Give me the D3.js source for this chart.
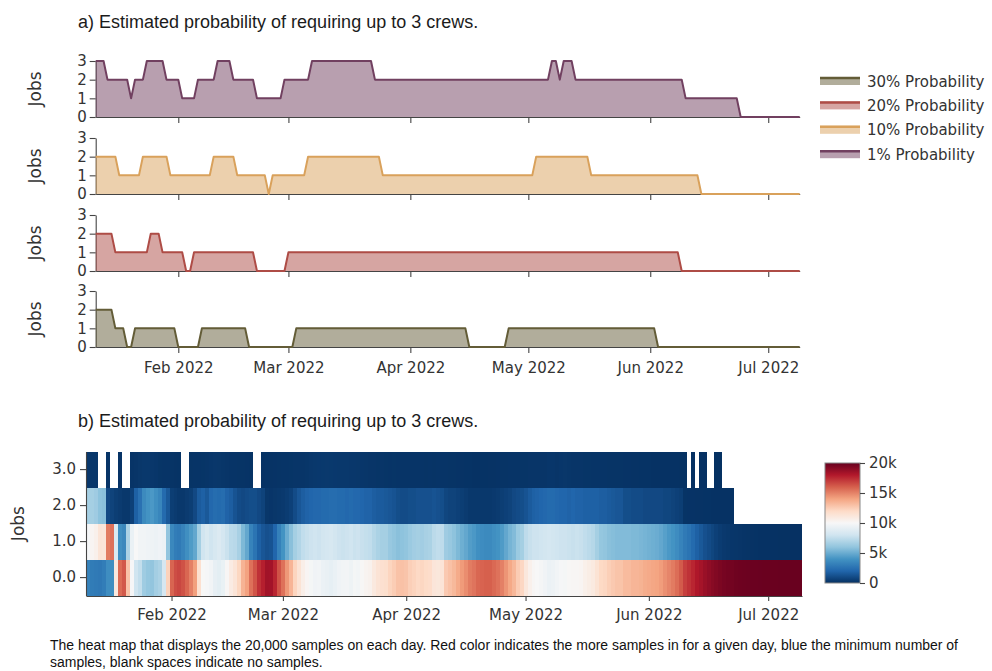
<!DOCTYPE html>
<html>
<head>
<meta charset="utf-8">
<script src="https://cdn.jsdelivr.net/npm/d3@7"></script>
<style>
  body { margin: 0; background: #ffffff; }
  svg { display: block; }
</style>
</head>
<body>
<svg id="chart" width="992" height="671"></svg>
<script>
// ---------- data ----------
const firstDay = "2022-01-11";
const lastDay = "2022-07-09";

// Jobs needed at each probability level, one value per day (Jan 11 – Jul 9, 2022)
const prob1 = [
  3,3,3,2,2,2,2,2,2,1, 2,2,2,3,3,3,3,3,2,2, 2,2,1,1,1,1,2,2,2,2, 2,3,3,3,3,2,2,2,2,2,
  2,1,1,1,1,1,1,1,2,2, 2,2,2,2,2,3,3,3,3,3, 3,3,3,3,3,3,3,3,3,3, 3,2,2,2,2,2,2,2,2,2,
  2,2,2,2,2,2,2,2,2,2, 2,2,2,2,2,2,2,2,2,2, 2,2,2,2,2,2,2,2,2,2, 2,2,2,2,2,2,3,3,2,3,
  3,3,2,2,2,2,2,2,2,2, 2,2,2,2,2,2,2,2,2,2, 2,2,2,2,2,2,2,2,2,2, 1,1,1,1,1,1,1,1,1,1,
  1,1,1,1,0,0,0,0,0,0, 0,0,0,0,0,0,0,0,0,0
];
const prob10 = [
  2,2,2,2,2,2,1,1,1,1, 1,1,2,2,2,2,2,2,2,1, 1,1,1,1,1,1,1,1,1,1, 2,2,2,2,2,2,1,1,1,1,
  1,1,1,1,0,1,1,1,1,1, 1,1,1,1,2,2,2,2,2,2, 2,2,2,2,2,2,2,2,2,2, 2,2,2,1,1,1,1,1,1,1,
  1,1,1,1,1,1,1,1,1,1, 1,1,1,1,1,1,1,1,1,1, 1,1,1,1,1,1,1,1,1,1, 1,1,2,2,2,2,2,2,2,2,
  2,2,2,2,2,2,1,1,1,1, 1,1,1,1,1,1,1,1,1,1, 1,1,1,1,1,1,1,1,1,1, 1,1,1,1,0,0,0,0,0,0,
  0,0,0,0,0,0,0,0,0,0, 0,0,0,0,0,0,0,0,0,0
];
const prob20 = [
  2,2,2,2,2,1,1,1,1,1, 1,1,1,1,2,2,2,1,1,1, 1,1,1,0,0,1,1,1,1,1, 1,1,1,1,1,1,1,1,1,1,
  1,0,0,0,0,0,0,0,0,1, 1,1,1,1,1,1,1,1,1,1, 1,1,1,1,1,1,1,1,1,1, 1,1,1,1,1,1,1,1,1,1,
  1,1,1,1,1,1,1,1,1,1, 1,1,1,1,1,1,1,1,1,1, 1,1,1,1,1,1,1,1,1,1, 1,1,1,1,1,1,1,1,1,1,
  1,1,1,1,1,1,1,1,1,1, 1,1,1,1,1,1,1,1,1,1, 1,1,1,1,1,1,1,1,1,0, 0,0,0,0,0,0,0,0,0,0,
  0,0,0,0,0,0,0,0,0,0, 0,0,0,0,0,0,0,0,0,0
];
const prob30 = [
  2,2,2,2,2,1,1,1,0,0, 1,1,1,1,1,1,1,1,1,1, 1,0,0,0,0,0,0,1,1,1, 1,1,1,1,1,1,1,1,1,0,
  0,0,0,0,0,0,0,0,0,0, 0,1,1,1,1,1,1,1,1,1, 1,1,1,1,1,1,1,1,1,1, 1,1,1,1,1,1,1,1,1,1,
  1,1,1,1,1,1,1,1,1,1, 1,1,1,1,1,0,0,0,0,0, 0,0,0,0,0,1,1,1,1,1, 1,1,1,1,1,1,1,1,1,1,
  1,1,1,1,1,1,1,1,1,1, 1,1,1,1,1,1,1,1,1,1, 1,1,1,0,0,0,0,0,0,0, 0,0,0,0,0,0,0,0,0,0,
  0,0,0,0,0,0,0,0,0,0, 0,0,0,0,0,0,0,0,0,0
];
const seriesLabels = ["1% Probability", "10% Probability", "20% Probability", "30% Probability"];
const jobTicks = [0, 1, 2, 3];

// Samples (out of 20,000) per day for each job count; null = no samples
const samplesJobs3 = [
  260,240,230,null,null,150,null,null,120,null, null,160,180,250,280,300,270,240,170,150,
  160,140,110,100,null,null,130,150,160,170, 180,230,260,250,220,180,160,150,140,130,
  120,100,null,null,90,100,110,120,140,150, 160,170,180,180,190,220,260,290,310,320,
  330,320,310,300,290,280,270,260,250,230, 210,190,180,170,180,170,160,170,160,150,
  150,160,150,160,150,140,150,140,150,160, 150,140,130,120,110,100,100,90,90,100,
  100,110,110,120,130,140,150,160,160,170, 170,180,180,190,180,190,230,240,190,230,
  250,220,190,180,180,170,170,160,160,150, 150,140,140,130,130,120,120,110,110,100,
  100,100,90,90,80,80,80,70,70,60, 60,null,50,null,40,40,null,null,30,30,
  null,null,null,null,null,null,null,null,null,null, null,null,null,null,null,null,null,null,null,null
];
const samplesJobs2 = [
  6600,6600,6400,5900,5800,900,700,500,400,300, 300,600,1800,2500,3600,4000,4200,3800,3400,2200,
  1500,500,400,300,300,400,500,900,1600,1800, 1500,2100,2300,2200,2300,1900,1700,1300,1000,900,
  1000,1100,1100,900,700,250,200,250,300,350, 450,600,1000,1400,1700,1900,2000,2100,2100,2200,
  2200,2300,2300,2200,2200,2100,2200,2100,2100,2000, 1900,1900,1700,1600,1600,1500,1400,1300,1100,1000,
  1000,1100,1100,1200,1200,1200,1200,1300,1200,1100, 800,700,700,600,500,400,300,300,300,300,
  300,300,350,400,500,600,700,900,1000,1100, 1300,1600,1800,1900,2000,2100,2200,2200,2100,2000,
  2000,1900,2000,1900,1900,1800,1800,1800,1800,1700, 1700,1600,1500,1400,1400,1100,1100,1000,1000,1000,
  900,900,900,900,900,800,800,700,600,500, 130,120,120,110,110,100,100,90,90,80,
  80,70,70,null,null,null,null,null,null,null, null,null,null,null,null,null,null,null,null,null
];
const samplesJobs1 = [
  9900,10200,10500,11300,11200,15200,15500,8500,3800,3500, 6800,9300,10000,9700,9700,9600,9500,9400,9600,9400,
  6000,3500,3000,2900,3300,3800,4300,4800,6600,8000, 8400,8000,8300,8600,8200,7800,7300,7200,6700,5500,
  4800,3300,2600,1800,1400,1200,1300,2000,3200,4000, 5000,5800,6600,7000,7500,7700,7900,8000,7900,8100,
  8200,8300,8100,7900,7800,7900,8000,7800,7900,7700, 7600,7500,7100,6800,6600,6600,6200,6000,5800,5900,
  6000,6300,6500,6600,6500,6700,6800,7300,7500,7400, 6400,6200,5900,5500,5100,4800,4400,4200,3800,3700,
  3600,3600,3800,4000,4300,4800,5300,5600,6300,6600, 7400,7700,7900,7900,8000,8100,8200,8100,8000,7900,
  7900,7800,7700,7800,7700,7500,7300,7100,6600,6100, 6000,5800,5700,5600,5600,5600,5600,5500,5500,5400,
  5300,5200,5100,5000,4800,4500,4200,4000,3700,3300, 2900,2600,2200,1800,1500,1200,1000,800,600,450,
  350,280,240,210,180,150,130,110,100,90, 80,80,70,70,60,60,60,50,50,50
];
const samplesJobs0 = [
  3240,2960,2870,2800,3000,3750,3800,11000,15680,16200, 12900,9940,8020,7550,6420,6100,6030,6560,6830,8250,
  12340,15860,16490,16700,16400,15800,15070,14150,11640,10030, 9920,9670,9140,8950,9280,10120,10840,11350,12160,13470,
  14080,15500,16300,17300,17810,18450,18390,17630,16360,15500, 14390,13430,12220,11420,10610,10180,9840,9610,9690,9380,
  9270,9080,9290,9600,9710,9720,9530,9840,9750,10070, 10290,10410,11020,11430,11620,11730,12240,12530,12940,12950,
  12850,12440,12250,12040,12150,11960,11850,11260,11150,11340, 12650,12960,13270,13780,14290,14700,15200,15410,15810,15900,
  16000,15990,15740,15480,15070,14460,13850,13340,12540,12130, 11130,10520,10120,10010,9820,9610,9370,9460,9710,9870,
  9850,10080,10110,10120,10220,10530,10730,10940,11440,12050, 12150,12460,12660,12870,12870,13180,13180,13390,13390,13500,
  13700,13800,13910,14010,14220,14620,14920,15230,15630,16140, 16910,17280,17630,18090,18350,18660,18900,19110,19280,19440,
  19570,19650,19690,19790,19820,19850,19870,19890,19900,19910, 19920,19920,19930,19930,19940,19940,19940,19950,19950,19950
];
const colorbarTicks = [0, 5000, 10000, 15000, 20000];
const colorbarTickLabels = ["0", "5k", "10k", "15k", "20k"];

const titleA = "a) Estimated probability of requiring up to 3 crews.";
const titleB = "b) Estimated probability of requiring up to 3 crews.";
const captionLines = [
  "The heat map that displays the 20,000 samples on each day. Red color indicates the more samples in for a given day, blue the minimum number of",
  "samples, blank spaces indicate no samples."
];

// ---------- setup ----------
const parse = d3.utcParse("%Y-%m-%d");
const days = d3.utcDay.range(parse(firstDay), d3.utcDay.offset(parse(lastDay), 1));
const svg = d3.select("#chart");
const TICK_FONT = "'DejaVu Sans', Verdana, sans-serif";
const TITLE_FONT = "'Liberation Sans', Arial, Helvetica, sans-serif";
const AXIS_COLOR = "#444";
const TEXT_COLOR = "#333";
const monthFmt = d3.utcFormat("%b %Y");

function styleAxis(g) {
  g.select(".domain").attr("stroke", AXIS_COLOR).attr("stroke-width", 1.1);
  g.selectAll(".tick line").attr("stroke", AXIS_COLOR).attr("stroke-width", 1.1);
  g.selectAll(".tick text").attr("fill", TEXT_COLOR)
    .style("font-family", TICK_FONT).style("font-size", "15px");
}

// ---------- (a) area panels ----------
svg.append("text").attr("x", 78).attr("y", 28).text(titleA)
  .style("font-family", TITLE_FONT).style("font-size", "18px").attr("fill", "#1b1b1b");

const xA = d3.scaleUtc().domain([days[0], days[days.length - 1]]).range([95.7, 799.7]);
const panels = [
  { values: prob1,  color: "#714060", top: 61 },
  { values: prob10, color: "#d9a15b", top: 138 },
  { values: prob20, color: "#ae4c46", top: 215 },
  { values: prob30, color: "#635c37", top: 291 }
];
const panelHeight = 56;

panels.forEach((p, i) => {
  const y = d3.scaleLinear().domain([0, 3]).range([p.top + panelHeight, p.top]);
  const g = svg.append("g");

  const isLast = i === panels.length - 1;
  const xAxis = d3.axisBottom(xA).ticks(d3.utcMonth.every(1))
    .tickSize(6).tickSizeOuter(0).tickPadding(9)
    .tickFormat(isLast ? monthFmt : () => "");
  g.append("g").attr("transform", `translate(0,${p.top + panelHeight})`).call(xAxis).call(styleAxis);

  const yAxis = d3.axisLeft(y).tickValues(jobTicks).tickFormat(d3.format("d"))
    .tickSize(6).tickSizeOuter(0).tickPadding(3);
  g.append("g").attr("transform", `translate(${xA.range()[0]},0)`).call(yAxis).call(styleAxis);

  const area = d3.area().x((d, j) => xA(days[j])).y0(y(0)).y1(d => y(d));
  const line = d3.line().x((d, j) => xA(days[j])).y(d => y(d));
  g.append("path").datum(p.values).attr("d", area)
    .attr("fill", p.color).attr("fill-opacity", 0.5);
  g.append("path").datum(p.values).attr("d", line)
    .attr("fill", "none").attr("stroke", p.color).attr("stroke-width", 2)
    .attr("stroke-linejoin", "round");

  svg.append("text")
    .attr("transform", `translate(41,${p.top + panelHeight / 2}) rotate(-90)`)
    .attr("text-anchor", "middle").text("Jobs")
    .style("font-family", TICK_FONT).style("font-size", "17px").attr("fill", TEXT_COLOR);
});

// legend (highest probability first)
const legendOrder = [3, 2, 1, 0];
legendOrder.forEach((idx, k) => {
  const cy = 81 + k * 24.4;
  const col = panels[idx].color;
  svg.append("rect").attr("x", 820).attr("y", cy - 4).attr("width", 40).attr("height", 8)
    .attr("fill", col).attr("fill-opacity", 0.5);
  svg.append("line").attr("x1", 820).attr("x2", 860).attr("y1", cy - 3).attr("y2", cy - 3)
    .attr("stroke", col).attr("stroke-width", 2.5);
  svg.append("text").attr("x", 867).attr("y", cy + 5.5).text(seriesLabels[idx])
    .style("font-family", TICK_FONT).style("font-size", "15px").attr("fill", TEXT_COLOR);
});

// ---------- (b) heatmap ----------
svg.append("text").attr("x", 78).attr("y", 427).text(titleB)
  .style("font-family", TITLE_FONT).style("font-size", "18px").attr("fill", "#1b1b1b");

const halfDay = 12 * 3600 * 1000;
const xH = d3.scaleUtc()
  .domain([new Date(+days[0] - halfDay), new Date(+days[days.length - 1] + halfDay)])
  .range([86, 802]);
const yH = d3.scaleBand().domain(["3", "2", "1", "0"]).range([451.6, 595.6]).padding(0);

const rdbu = ["#053061", "#2166ac", "#4393c3", "#92c5de", "#d1e5f0", "#f7f7f7",
              "#fddbc7", "#f4a582", "#d6604d", "#b2182b", "#67001f"];
const color = d3.scaleLinear()
  .domain(d3.range(rdbu.length).map(k => k * 20000 / (rdbu.length - 1)))
  .range(rdbu).interpolate(d3.interpolateRgb).clamp(true);

const heatRows = [
  { job: "0", values: samplesJobs0 },
  { job: "1", values: samplesJobs1 },
  { job: "2", values: samplesJobs2 },
  { job: "3", values: samplesJobs3 }
];
const cells = [];
heatRows.forEach(r => r.values.forEach((v, j) => {
  if (v !== null) cells.push({ job: r.job, day: days[j], value: v });
}));
// each cell is snapped to whole pixels so neighbouring days butt together without seams
const cellX0 = d => Math.round(xH(new Date(+d.day - halfDay)));
const cellX1 = d => Math.round(xH(new Date(+d.day + halfDay)));
svg.append("g").attr("shape-rendering", "crispEdges")
  .selectAll("rect").data(cells).join("rect")
  .attr("x", cellX0)
  .attr("width", d => cellX1(d) - cellX0(d))
  .attr("y", d => Math.round(yH(d.job)))
  .attr("height", d => Math.round(yH(d.job) + yH.bandwidth()) - Math.round(yH(d.job)))
  .attr("fill", d => color(d.value));

svg.append("g").attr("transform", "translate(0,596)")
  .call(d3.axisBottom(xH).ticks(d3.utcMonth.every(1)).tickFormat(monthFmt)
    .tickSize(5).tickSizeOuter(0).tickPadding(8))
  .call(styleAxis);
svg.append("g").attr("transform", "translate(86,0)")
  .call(d3.axisLeft(yH).tickFormat(d => d3.format(".1f")(+d)).tickSize(6).tickSizeOuter(0).tickPadding(4))
  .call(styleAxis);

svg.append("text")
  .attr("transform", `translate(24,${(yH.range()[0] + yH.range()[1]) / 2}) rotate(-90)`)
  .attr("text-anchor", "middle").text("Jobs")
  .style("font-family", TICK_FONT).style("font-size", "17px").attr("fill", TEXT_COLOR);

// colorbar
const cb = { x: 825, y: 463, w: 35, h: 120 };
const defs = svg.append("defs");
const grad = defs.append("linearGradient").attr("id", "cbGrad")
  .attr("x1", 0).attr("y1", 1).attr("x2", 0).attr("y2", 0);
rdbu.forEach((c, k) => grad.append("stop").attr("offset", k / (rdbu.length - 1)).attr("stop-color", c));
svg.append("rect").attr("x", cb.x).attr("y", cb.y).attr("width", cb.w).attr("height", cb.h)
  .attr("fill", "url(#cbGrad)").attr("stroke", "#888").attr("stroke-width", 1);
const cbScale = d3.scaleLinear().domain([0, 20000]).range([cb.y + cb.h, cb.y]);
const cbAxis = svg.append("g").attr("transform", `translate(${cb.x + cb.w},0)`)
  .call(d3.axisRight(cbScale).tickValues(colorbarTicks)
    .tickFormat((d, k) => colorbarTickLabels[k]).tickSize(5).tickPadding(4))
  .call(styleAxis);
cbAxis.select(".domain").remove();

// caption (condensed to the figure width)
const capFont = "'Liberation Sans Narrow', 'Liberation Sans', Arial, sans-serif";
const cap1 = svg.append("text").attr("x", 50).attr("y", 650).text(captionLines[0])
  .style("font-family", capFont).style("font-size", "14px").attr("fill", "#111");
const cap2 = svg.append("text").attr("x", 50).attr("y", 667).text(captionLines[1])
  .style("font-family", capFont).style("font-size", "14px").attr("fill", "#111");
const w1 = cap1.node().getComputedTextLength();
const w2 = cap2.node().getComputedTextLength();
const squeeze = 908 / w1;
cap1.attr("textLength", 908).attr("lengthAdjust", "spacingAndGlyphs");
cap2.attr("textLength", w2 * squeeze).attr("lengthAdjust", "spacingAndGlyphs");
</script>
</body>
</html>
